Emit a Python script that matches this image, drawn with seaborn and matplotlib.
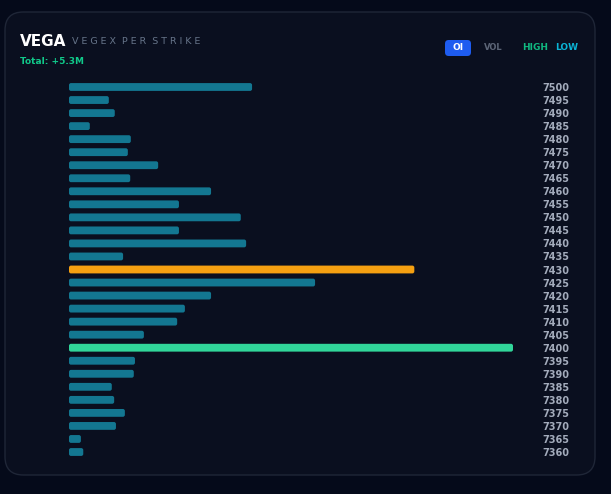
import matplotlib
matplotlib.use("Agg")
import matplotlib.pyplot as plt
import seaborn as sns
import pandas as pd
from matplotlib.patches import FancyBboxPatch

strikes = [7500, 7495, 7490, 7485, 7480, 7475, 7470, 7465, 7460, 7455,
           7450, 7445, 7440, 7435, 7430, 7425, 7420, 7415, 7410, 7405,
           7400, 7395, 7390, 7385, 7380, 7375, 7370, 7365, 7360]
# vegex in thousands
vegex_k = [308, 67, 77, 35, 104, 99, 150, 103, 239, 185,
           289, 185, 298, 91, 581, 414, 239, 195, 182, 126,
           747, 111, 109, 72, 76, 94, 79, 20, 24]
total_label = "Total: +5.3M"

BG = "#050a1a"
CARD = "#0a0f1f"
TEAL = "#137791"
ORANGE = "#f5a011"
GREEN = "#31d69a"

max_v = max(vegex_k)
idx_max = vegex_k.index(max_v)
second = sorted(vegex_k)[-2]
idx_second = vegex_k.index(second)
colors = []
for i in range(len(strikes)):
    if i == idx_max:
        colors.append(GREEN)
    elif i == idx_second:
        colors.append(ORANGE)
    else:
        colors.append(TEAL)

df = pd.DataFrame({"strike": [str(s) for s in strikes], "vegex": vegex_k})

sns.set_theme(style="dark")
plt.rcParams['font.family'] = ['DejaVu Sans']

W, H = 611, 494
fig = plt.figure(figsize=(W / 100, H / 100), dpi=100)
fig.patch.set_facecolor(BG)

card = FancyBboxPatch((5 / W, 1 - 475 / H), 590 / W, 463 / H,
                      boxstyle="round,pad=0,rounding_size=0.03",
                      transform=fig.transFigure, facecolor=CARD,
                      edgecolor="#1f2637", linewidth=1.0, zorder=-10,
                      mutation_aspect=W / H)
fig.patches.append(card)

top_px = 87 - 6.52
bot_px = 452 + 6.52
ax_w_px = 513 - 69
ax_h_px = bot_px - top_px
ax = fig.add_axes([69 / W, 1 - bot_px / H, ax_w_px / W, ax_h_px / H])
ax.set_facecolor("none")
ax.set_zorder(5)

sns.barplot(data=df, x="vegex", y="strike", hue="strike", palette=colors,
            legend=False, orient="h", width=0.6, ax=ax, saturation=1,
            linewidth=0)

ax.set_xlim(0, max_v)
ax.set_ylim(len(strikes) - 0.5, -0.5)

# round bar corners (~2px radius)
x_per_px = max_v / ax_w_px
y_per_px = len(strikes) / ax_h_px
rad = 2.0 * x_per_px
aspect = y_per_px / x_per_px
for p in list(ax.patches):
    x0, y0 = p.get_x(), p.get_y()
    w, h = p.get_width(), p.get_height()
    fc = p.get_facecolor()
    p.remove()
    ax.add_patch(FancyBboxPatch((x0, y0), w, h,
                                boxstyle=f"round,pad=0,rounding_size={rad}",
                                mutation_aspect=aspect, facecolor=fc,
                                edgecolor="none", linewidth=0))

ax.set_xlabel("")
ax.set_ylabel("")
ax.set_xticks([])
ax.grid(False)
for s in ax.spines.values():
    s.set_visible(False)
ax.yaxis.tick_right()
ax.tick_params(axis="y", length=0, pad=21, colors="#a3abbb")
for lab in ax.get_yticklabels():
    lab.set_fontsize(7)
    lab.set_fontweight("bold")
    lab.set_color("#a3abbb")

# header
fig.text(20 / W, 1 - 41 / H, "VEGA", color="white", fontsize=11,
         fontweight="heavy", va="center", ha="left")
fig.text(72 / W, 1 - 41 / H, "V E G E X  P E R  S T R I K E",
         color="#667489", fontsize=6.8, va="center", ha="left")
fig.text(20 / W, 1 - 61 / H, total_label, color="#10c98a", fontsize=6.5,
         fontweight="bold", va="center", ha="left")

btn = FancyBboxPatch((445 / W, 1 - 56 / H), 26 / W, 16 / H,
                     boxstyle="round,pad=0,rounding_size=0.006",
                     transform=fig.transFigure, facecolor="#1e5cf0",
                     edgecolor="none", zorder=1, mutation_aspect=W / H)
fig.patches.append(btn)
fig.text(458 / W, 1 - 48 / H, "OI", color="white", fontsize=6.5,
         fontweight="bold", va="center", ha="center")
fig.text(493 / W, 1 - 48 / H, "VOL", color="#5c6577", fontsize=6,
         fontweight="bold", va="center", ha="center")
fig.text(535 / W, 1 - 48 / H, "HIGH", color="#10b981", fontsize=6.5,
         fontweight="bold", va="center", ha="center")
fig.text(567 / W, 1 - 48 / H, "LOW", color="#0ab4d6", fontsize=6.5,
         fontweight="bold", va="center", ha="center")

fig.savefig("out.png", dpi=100, facecolor=BG)
